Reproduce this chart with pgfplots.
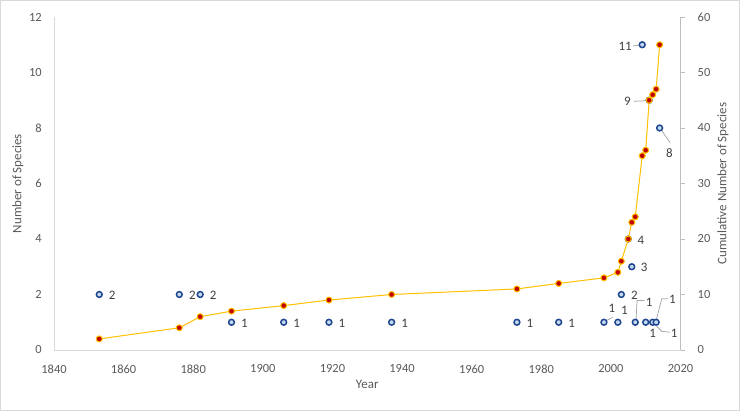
\documentclass[border=0pt]{standalone}
\usepackage{pgfplots}
\pgfplotsset{compat=1.18}
\usepackage{pgfplotstable}
\usepackage{fontspec}
\setmainfont{Carlito}
\definecolor{tickgray}{HTML}{595959}
\definecolor{axgray}{HTML}{D9D9D9}
\definecolor{rtick}{HTML}{BFBFBF}
\definecolor{labcol}{HTML}{404040}
\definecolor{bluedge}{HTML}{1F4690}
\definecolor{bluefill}{HTML}{C5D9EF}
\definecolor{redfill}{HTML}{C00000}
\definecolor{gold}{HTML}{FFC000}
\definecolor{leader}{HTML}{A6A6A6}

% year, species, label offsets (bp)
\pgfplotstableread{
x y dx dy
1853 2 13 -1
1876 2 13 -1
1882 2 13 -1
1891 1 13 -1
1906 1 13 -1
1919 1 13 -1
1937 1 13 -1
1973 1 13 -1
1985 1 13 -1
1998 1 8 14.4
2002 1 6.5 11.7
2003 2 13 -1
2005 4 12.5 -1
2006 3 12.5 -1
2007 1 13.8 20.4
2009 11 -17 -2
2010 1 7 -10.6
2011 9 -21.8 -1.5
2012 1 21.4 -10.6
2013 1 16.2 23.4
2014 8 9.8 -25.3
}\species

\pgfplotstableread{
x c
1853 2
1876 4
1882 6
1891 7
1906 8
1919 9
1937 10
1973 11
1985 12
1998 13
2002 14
2003 16
2005 20
2006 23
2007 24
2009 35
2010 36
2011 45
2012 46
2013 47
2014 55
}\cumul

\begin{document}
\begin{tikzpicture}
\useasboundingbox (0,0) rectangle (740bp,411bp);
\draw[axgray, line width=0.75bp] (0.5bp,0.5bp) rectangle (739.5bp,410.5bp);
\pgfplotsset{
  common/.style={
    scale only axis, width=626.5bp, height=333bp,
    at={(54bp,61bp)}, anchor=south west,
    xmin=1840, xmax=2020,
    /pgf/number format/assume math mode=true,
    /pgf/number format/1000 sep={},
    tick label style={font=\fontsize{12.5}{14}\selectfont, text=tickgray, inner sep=0pt},
    label style={font=\fontsize{13}{15}\selectfont, text=tickgray},
    clip=false,
  }
}
\begin{axis}[common,
  ymin=0, ymax=12,
  xtick={1840,1860,...,2020}, ytick={0,2,...,12},
  axis x line*=bottom, axis y line*=left,
  axis line style={axgray, line width=0.75bp},
  major tick length=0pt,
  tick style={draw=none},
  xticklabel style={anchor=center, yshift=-19bp},
  yticklabel style={anchor=east, xshift=-12bp},
  xlabel={Year},
  xlabel style={at={(axis description cs:0.5,-0.102)}, anchor=center},
  ylabel={Number of Species},
  ylabel style={at={(axis description cs:-0.0575,0.5)}, anchor=center},
]
\addplot[only marks, mark=*, mark size=2.9bp,
  mark options={draw=bluedge, fill=bluefill, line width=1.5bp},
  visualization depends on={\thisrow{dx} \as \dx},
  visualization depends on={\thisrow{dy} \as \dy},
  nodes near coords, point meta=explicit symbolic,
  nodes near coords style={anchor=center, inner sep=0pt, xshift=\dx bp, yshift=\dy bp,
    font=\fontsize{13}{15}\selectfont, text=labcol},
] table[x=x, y=y, meta=y] {\species};
% leader lines for moved data labels
\draw[leader, line width=0.75bp] ([shift={(2.5bp,1.7bp)}]axis cs:1998,1) -- ([shift={(8.9bp,5bp)}]axis cs:1998,1);
\draw[leader, line width=0.75bp] ([shift={(9.1bp,21.7bp)}]axis cs:2007,1) -- ([shift={(1.8bp,21.7bp)}]axis cs:2007,1) -- ([shift={(0.8bp,2bp)}]axis cs:2007,1);
\draw[leader, line width=0.75bp] ([shift={(-9.4bp,-1.2bp)}]axis cs:2009,11) -- ([shift={(-2.8bp,-0.5bp)}]axis cs:2009,11);
\draw[leader, line width=0.75bp] ([shift={(-15.4bp,-1bp)}]axis cs:2011,9) -- ([shift={(-0.8bp,-0.4bp)}]axis cs:2011,9);
\draw[leader, line width=0.75bp] ([shift={(4.1bp,-4bp)}]axis cs:2012,1) -- ([shift={(9.1bp,-9bp)}]axis cs:2012,1) -- ([shift={(17.4bp,-10bp)}]axis cs:2012,1);
\draw[leader, line width=0.75bp] ([shift={(11.9bp,23.4bp)}]axis cs:2013,1) -- ([shift={(5.6bp,23.4bp)}]axis cs:2013,1) -- ([shift={(0.2bp,2.7bp)}]axis cs:2013,1);
\draw[leader, line width=0.75bp] ([shift={(2.2bp,-2.7bp)}]axis cs:2014,8) -- ([shift={(10.5bp,-14.7bp)}]axis cs:2014,8);
\end{axis}
\begin{axis}[common,
  ymin=0, ymax=60,
  ytick={0,10,...,60},
  axis x line=none, axis y line*=right,
  axis line style={rtick, line width=0.75bp},
  tick style={rtick, line width=0.75bp},
  tick align=outside, major tick length=4bp,
  yticklabel style={anchor=west, xshift=13bp},
  ylabel={Cumulative Number of Species},
  ylabel style={at={(axis description cs:1.0678,0.5)}, anchor=center},
]
\addplot[gold, line width=1bp, mark=*, mark size=3bp,
  mark options={draw=gold, fill=redfill, line width=1bp}]
  table[x=x, y=c] {\cumul};
\end{axis}
\end{tikzpicture}
\end{document}
